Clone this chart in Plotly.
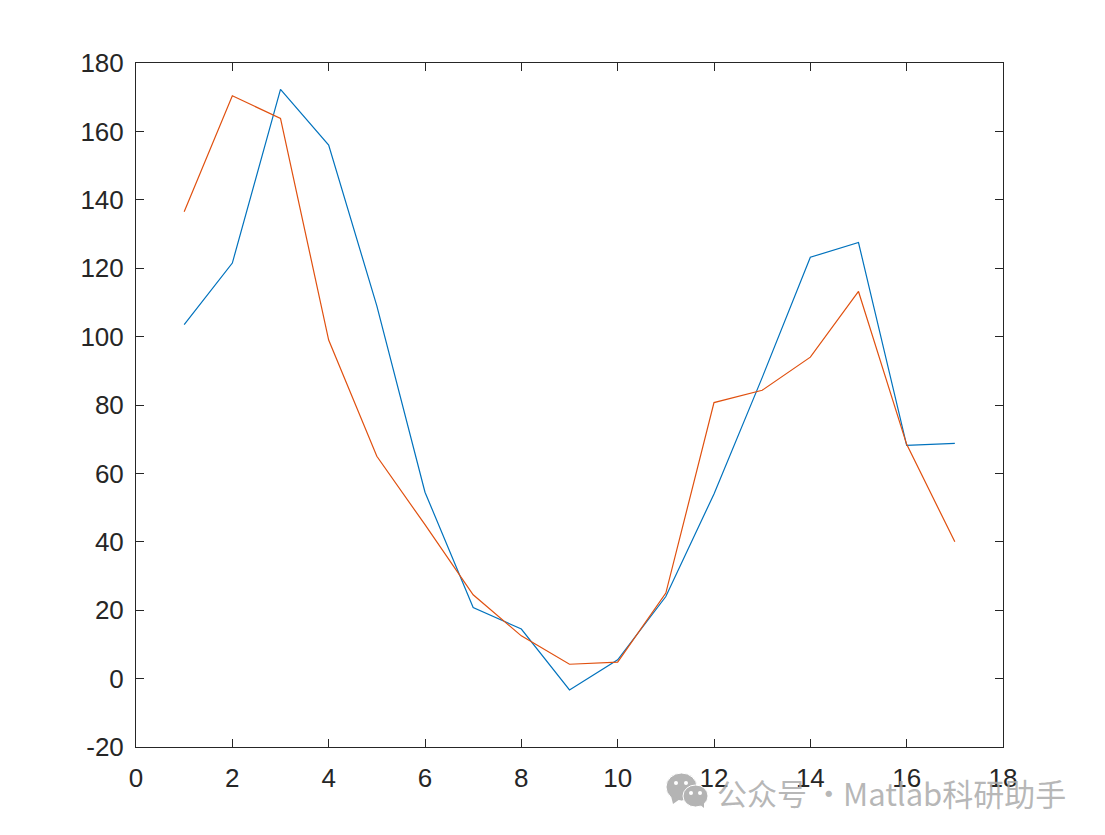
import plotly.graph_objects as go

x_values = list(range(1, 18))
blue_values = [103.5, 121.5, 172.3, 156, 109, 54.5, 20.8, 14.5, -3.3, 5.5, 24, 54, 88, 123.2, 127.5, 68.2, 68.8]
orange_values = [136.5, 170.4, 163.8, 99, 65, 45, 24.5, 12.5, 4.2, 4.8, 25, 80.7, 84.3, 94, 113.2, 68.5, 40]
x_ticks = list(range(0, 19, 2))
y_ticks = list(range(-20, 181, 20))
y_labels = [str(v) for v in y_ticks]
watermark_left = "公众号 ·"
watermark_right = "Matlab科研助手"

W, H = 1105, 835
L, R, T, B = 136, 1003, 63, 747

fig = go.Figure()
fig.add_trace(go.Scatter(x=x_values, y=blue_values, mode="lines",
                         line=dict(color="#0072BD", width=1.2), showlegend=False))
fig.add_trace(go.Scatter(x=x_values, y=orange_values, mode="lines",
                         line=dict(color="#E0500F", width=1.2), showlegend=False))

axis_common = dict(showgrid=False, zeroline=False, showline=True, mirror="ticks",
                   linecolor="#262626", linewidth=1, ticks="inside", ticklen=8,
                   tickcolor="#262626", tickwidth=1,
                   tickfont=dict(family="Liberation Sans", size=26, color="#262626"))
fig.update_xaxes(range=[0, 18], tickvals=x_ticks, ticklabelstandoff=8, **axis_common)
fig.update_yaxes(range=[-20, 180], tickvals=y_ticks, ticktext=y_labels, ticklabelstandoff=6, **axis_common)


def px(x):
    return (x - L) / (R - L)


def py(y):
    return (B - y) / (B - T)


GREY = "#B4B4B4"
# WeChat-style watermark icon
for cx, cy, rx, ry in [(681.5, 787, 15.5, 14), (695.5, 796, 12.5, 11)]:
    fig.add_shape(type="circle", xref="paper", yref="paper", layer="above",
                  x0=px(cx - rx), x1=px(cx + rx), y0=py(cy + ry), y1=py(cy - ry),
                  fillcolor=GREY, line=dict(color="#FFFFFF", width=1))
for pts in [[(671, 796), (673, 804), (680, 799)], [(699, 804), (704, 808), (704, 800)]]:
    path = "M " + " L ".join(f"{px(a)} {py(b)}" for a, b in pts) + " Z"
    fig.add_shape(type="path", xref="paper", yref="paper", layer="above", path=path,
                  fillcolor=GREY, line=dict(width=0))
for cx, cy in [(676, 783), (686, 783), (691, 793), (700, 793)]:
    fig.add_shape(type="circle", xref="paper", yref="paper", layer="above",
                  x0=px(cx - 2), x1=px(cx + 2), y0=py(cy + 2), y1=py(cy - 2),
                  fillcolor="#FFFFFF", line=dict(width=0))

for text, xpos, size in [(watermark_left, 717, 30), (watermark_right, 843, 31)]:
    fig.add_annotation(xref="paper", yref="paper", x=px(xpos), y=py(792), xanchor="left",
                       yanchor="middle", showarrow=False, text=text, borderpad=0, borderwidth=0,
                       font=dict(family="Noto Sans CJK SC", size=size, color="rgba(170,170,170,0.85)"))

fig.update_layout(width=W, height=H, autosize=False, paper_bgcolor="white", plot_bgcolor="white",
                  margin=dict(l=L, r=W - R, t=T, b=H - B, pad=0))

fig.write_html("out.html", config={"displayModeBar": False},
               post_script="document.body.style.margin='0';")
